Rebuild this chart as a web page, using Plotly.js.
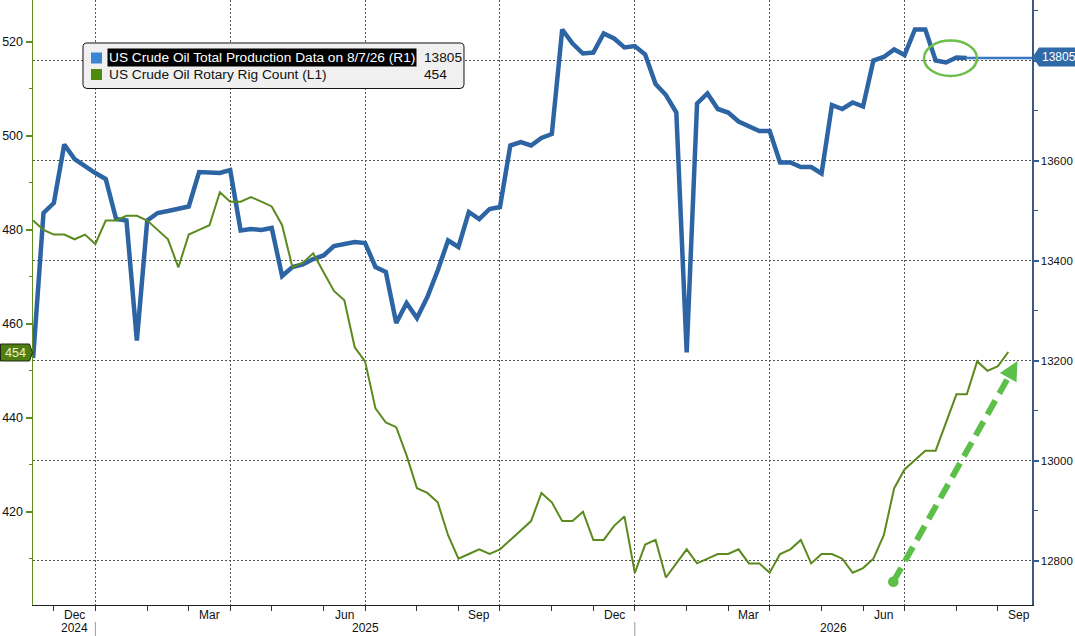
<!DOCTYPE html>
<html><head><meta charset="utf-8">
<script src="https://cdn.plot.ly/plotly-3.0.1.min.js"></script>
<style>html,body{margin:0;padding:0;background:#fff;overflow:hidden}#chart{width:1075px;height:636px}</style>
</head><body><div id="chart"></div>
<script>
// ---------- data ----------
const startDate = '2024-11-21';   // first weekly observation
const production = [
  13205, 13495, 13515, 13632, 13603, 13588, 13575, 13563, 13483, 13480,
  13240, 13480, 13495, 13499, 13503, 13508, 13577, 13575, 13575, 13581,
  13460, 13463, 13461, 13465, 13369, 13387, 13392, 13403, 13410, 13429,
  13433, 13437, 13435, 13387, 13377, 13275, 13315, 13285, 13327, 13380,
  13440, 13427, 13497, 13483, 13503, 13507, 13630, 13637, 13630, 13645,
  13653, 13862, 13834, 13814, 13816, 13854, 13844, 13826, 13829, 13812,
  13753, 13731, 13696, 13216, 13714, 13734, 13703, 13696, 13678, 13668,
  13659, 13659, 13596, 13596, 13587, 13587, 13574, 13711, 13703, 13716,
  13708, 13800, 13807, 13822, 13811, 13862, 13862, 13800, 13796, 13806,
  13805
];
const rigCount = [
  482, 480, 479, 479, 478, 479, 477, 482, 482, 483,
  483, 482, 480, 478, 472, 479, 480, 481, 488, 486,
  486, 487, 486, 485, 481, 472, 473, 475, 471, 467,
  465, 455, 452, 442, 439, 438, 432, 425, 424, 422,
  415, 410, 411, 412, 411, 412, 414, 416, 418, 424,
  422, 418, 418, 420, 414, 414, 417, 419, 407, 413,
  414, 406, 409, 412, 409, 410, 411, 411, 412, 409,
  409, 407, 411, 412, 414, 409, 411, 411, 410, 407,
  408, 410, 415, 425, 429, 431, 433, 433, 439, 445,
  445, 452, 450, 451, 454
];
const productionName = 'US Crude Oil Total Production Data on 8/7/26 (R1)';
const rigName = 'US Crude Oil Rotary Rig Count (L1)';
const labelMonths = {'12': 'Dec', '03': 'Mar', '06': 'Jun', '09': 'Sep'};
const yearLabels = ['2024', '2025', '2026'];
const leftTicks = [420, 440, 460, 480, 500, 520];
const leftMinor = [410, 430, 450, 470, 490, 510];
const rightTicks = [12800, 13000, 13200, 13400, 13600, 13800];
const rightMinor = [12900, 13100, 13300, 13500, 13700, 13900];

// ---------- helpers ----------
function addDays(s, n) { const d = new Date(s + 'T00:00:00Z'); d.setUTCDate(d.getUTCDate() + n); return d.toISOString().slice(0, 10); }
const mid = (a, b) => new Date((Date.parse(a) + Date.parse(b)) / 2).toISOString().slice(0, 19).replace('T', ' ');
const X = px => (px - 33) / 999;
const Yp = py => 1 - py / 605;
const P = (px, py) => X(px).toFixed(5) + ',' + Yp(py).toFixed(5);

const xRange = ['2024-11-20 22:00', '2026-09-26'];
const weeks = []; for (let i = 0; i < 110; i++) weeks.push(addDays(startDate, 7 * i));
const prodDates = weeks.slice(0, production.length);
const rigDates = weeks.slice(0, rigCount.length);

const monthFirst = [];
for (let i = 1; i < weeks.length; i++) if (weeks[i].slice(5, 7) !== weeks[i - 1].slice(5, 7)) monthFirst.push(weeks[i]);
const quarterFirst = monthFirst.filter(d => ['01', '04', '07', '10'].includes(d.slice(5, 7)));
const monthLabels = [];
for (let k = 0; k < monthFirst.length - 1; k++) {
  const m = monthFirst[k].slice(5, 7);
  if (labelMonths[m]) {
    const pos = mid(monthFirst[k], monthFirst[k + 1]);
    if (Date.parse(pos) < Date.parse(xRange[1])) monthLabels.push({pos, text: labelMonths[m]});
  }
}
const jan25 = quarterFirst.find(d => d.startsWith('2025-01'));
const jan26 = quarterFirst.find(d => d.startsWith('2026-01'));
const yearPos = [monthLabels[0].pos, mid(jan25, jan26), mid(jan26, xRange[1])];

const lastProd = production[production.length - 1];
const lastRig = rigCount[rigCount.length - 1];

const FONT = 'Liberation Sans, Arial, sans-serif';
const BLUE = '#2d64a3', GREEN = '#5b8a1e', ARROW = '#5cbf48';

// ---------- traces ----------
const data = [
  {x: prodDates, y: production, xaxis: 'x', yaxis: 'y', type: 'scatter', mode: 'lines',
   line: {color: BLUE, width: 4.5}, hoverinfo: 'skip', showlegend: false},
  {x: [prodDates[prodDates.length - 1], xRange[1]], y: [lastProd, lastProd], xaxis: 'x', yaxis: 'y',
   type: 'scatter', mode: 'lines', line: {color: '#3b78c2', width: 2.5}, hoverinfo: 'skip', showlegend: false},
  {x: rigDates, y: rigCount, xaxis: 'x', yaxis: 'y2', type: 'scatter', mode: 'lines',
   line: {color: GREEN, width: 2}, hoverinfo: 'skip', showlegend: false}
];

// ---------- shapes ----------
const shapes = [];
[jan25, jan26].forEach(d => shapes.push({type: 'line', xref: 'x', yref: 'paper', x0: d, x1: d,
  y0: -17 / 605, y1: -31 / 605, line: {color: '#9a9a9a', width: 1}}));
function roundRect(x0, y0, x1, y1, r) {
  return 'M' + P(x0 + r, y0) + ' L' + P(x1 - r, y0) + ' Q' + P(x1, y0) + ' ' + P(x1, y0 + r) +
    ' L' + P(x1, y1 - r) + ' Q' + P(x1, y1) + ' ' + P(x1 - r, y1) + ' L' + P(x0 + r, y1) +
    ' Q' + P(x0, y1) + ' ' + P(x0, y1 - r) + ' L' + P(x0, y0 + r) + ' Q' + P(x0, y0) + ' ' + P(x0 + r, y0) + ' Z';
}
shapes.push({type: 'path', xref: 'paper', yref: 'paper', layer: 'above', path: roundRect(83, 43, 464, 88.5, 4),
  fillcolor: '#f0f0f0', line: {color: '#111', width: 1}});
shapes.push({type: 'rect', xref: 'paper', yref: 'paper', layer: 'above', x0: X(91), x1: X(102), y0: Yp(63.5), y1: Yp(52.5),
  fillcolor: '#3b86d4', line: {width: 0}});
shapes.push({type: 'rect', xref: 'paper', yref: 'paper', layer: 'above', x0: X(91), x1: X(102), y0: Yp(80), y1: Yp(69),
  fillcolor: '#4e8a0e', line: {width: 0}});
shapes.push({type: 'path', xref: 'paper', yref: 'paper', layer: 'above',
  path: 'M' + P(1032.5, 57) + ' L' + P(1039, 47.5) + ' L' + P(1080, 47.5) + ' L' + P(1080, 66.5) + ' L' + P(1039, 66.5) + ' Z',
  fillcolor: '#2f6aa8', line: {width: 0}});
shapes.push({type: 'path', xref: 'paper', yref: 'paper', layer: 'above',
  path: 'M' + P(0.5, 344) + ' L' + P(29.5, 344) + ' L' + P(32.5, 352.7) + ' L' + P(29.5, 361) + ' L' + P(0.5, 361) + ' Z',
  fillcolor: '#4e7d14', line: {color: '#1d2a08', width: 1}});
shapes.push({type: 'circle', xref: 'paper', yref: 'paper', layer: 'above', x0: X(924), x1: X(977), y0: Yp(76), y1: Yp(40.5),
  line: {color: '#6cc04a', width: 2.5}});
shapes.push({type: 'line', xref: 'paper', yref: 'paper', layer: 'above', x0: X(893.3), y0: Yp(581.8), x1: X(1008.2), y1: Yp(377.6),
  line: {color: ARROW, width: 6, dash: '16px,8px'}});
shapes.push({type: 'path', xref: 'paper', yref: 'paper', layer: 'above',
  path: 'M' + P(1017.5, 361) + ' L' + P(1016.5, 382.3) + ' L' + P(999.9, 372.9) + ' Z', fillcolor: ARROW, line: {width: 0}});
shapes.push({type: 'circle', xref: 'paper', yref: 'paper', layer: 'above', x0: X(888), x1: X(898.6), y0: Yp(587.1), y1: Yp(576.5),
  fillcolor: ARROW, line: {width: 0}});

// ---------- annotations ----------
const annotations = [];
monthLabels.forEach(m => annotations.push({xref: 'x', yref: 'paper', x: m.pos, y: -10 / 605, text: m.text, showarrow: false,
  xanchor: 'center', yanchor: 'middle', font: {family: FONT, size: 12, color: '#111'}}));
yearLabels.forEach((t, i) => annotations.push({xref: 'x', yref: 'paper', x: yearPos[i], y: -23 / 605, text: t, showarrow: false,
  xanchor: 'center', yanchor: 'middle', font: {family: FONT, size: 12, color: '#111'}}));
annotations.push({xref: 'paper', yref: 'paper', x: X(106.5), y: Yp(57.8), text: productionName, showarrow: false,
  xanchor: 'left', yanchor: 'middle', bgcolor: '#000', borderpad: 1, font: {family: FONT, size: 13.7, color: '#fff'}});
annotations.push({xref: 'paper', yref: 'paper', x: X(422), y: Yp(57.8), text: String(lastProd), showarrow: false,
  xanchor: 'left', yanchor: 'middle', font: {family: FONT, size: 13.7, color: '#111'}});
annotations.push({xref: 'paper', yref: 'paper', x: X(106.5), y: Yp(74.5), text: rigName, showarrow: false,
  xanchor: 'left', yanchor: 'middle', font: {family: FONT, size: 13.7, color: '#111'}});
annotations.push({xref: 'paper', yref: 'paper', x: X(422), y: Yp(74.5), text: String(lastRig), showarrow: false,
  xanchor: 'left', yanchor: 'middle', font: {family: FONT, size: 13.7, color: '#111'}});
annotations.push({xref: 'paper', yref: 'paper', x: X(1040), y: Yp(57), text: String(lastProd), showarrow: false,
  xanchor: 'left', yanchor: 'middle', font: {family: FONT, size: 12, color: '#fff'}});
annotations.push({xref: 'paper', yref: 'paper', x: X(15), y: Yp(352.7), text: String(lastRig), showarrow: false,
  xanchor: 'center', yanchor: 'middle', font: {family: FONT, size: 12.5, color: '#eef4cf'}});

// ---------- layout ----------
const layout = {
  width: 1075, height: 636,
  margin: {l: 33, r: 43, t: 0, b: 31, pad: 0},
  paper_bgcolor: '#fff', plot_bgcolor: '#fff',
  font: {family: FONT, size: 12, color: '#111'},
  showlegend: false,
  xaxis: {type: 'date', range: xRange, tickmode: 'array', tickvals: quarterFirst, ticktext: quarterFirst.map(() => ''),
    showticklabels: false, ticks: 'outside', ticklen: 5, tickcolor: '#333', tickwidth: 1,
    showgrid: true, gridcolor: '#555', griddash: '2px,2px', gridwidth: 1,
    showline: true, linecolor: '#222', linewidth: 1, zeroline: false, fixedrange: true,
    minor: {tickmode: 'array', tickvals: monthFirst, ticks: 'outside', ticklen: 5, tickcolor: '#333', tickwidth: 1, showgrid: false}},
  yaxis: {side: 'right', range: [12711, 13921], tickmode: 'array', tickvals: rightTicks,
    ticktext: rightTicks.map(v => v === 13800 ? '' : String(v)),
    ticks: 'outside', ticklen: 5, tickwidth: 2, tickcolor: '#2e5f98',
    showgrid: true, gridcolor: '#555', griddash: '2px,2px', gridwidth: 1,
    showline: true, linecolor: '#3d5a80', linewidth: 1.5, zeroline: false,
    tickfont: {family: FONT, size: 11.5, color: '#111'},
    minor: {tickmode: 'array', tickvals: rightMinor, ticks: 'outside', ticklen: 4, tickcolor: '#3d5a80', tickwidth: 1, showgrid: false}},
  yaxis2: {overlaying: 'y', side: 'left', range: [400.14, 528.94], tickmode: 'array', tickvals: leftTicks,
    ticks: 'outside', ticklen: 6, tickwidth: 2, tickcolor: GREEN,
    showgrid: false, showline: true, linecolor: '#5f8f22', linewidth: 1.5, zeroline: false,
    tickfont: {family: FONT, size: 12.5, color: '#111'},
    minor: {tickmode: 'array', tickvals: leftMinor, ticks: 'outside', ticklen: 3, tickcolor: GREEN, tickwidth: 1, showgrid: false}},
  shapes, annotations
};

Plotly.newPlot('chart', data, layout, {staticPlot: true, displayModeBar: false});
</script>
</body></html>
